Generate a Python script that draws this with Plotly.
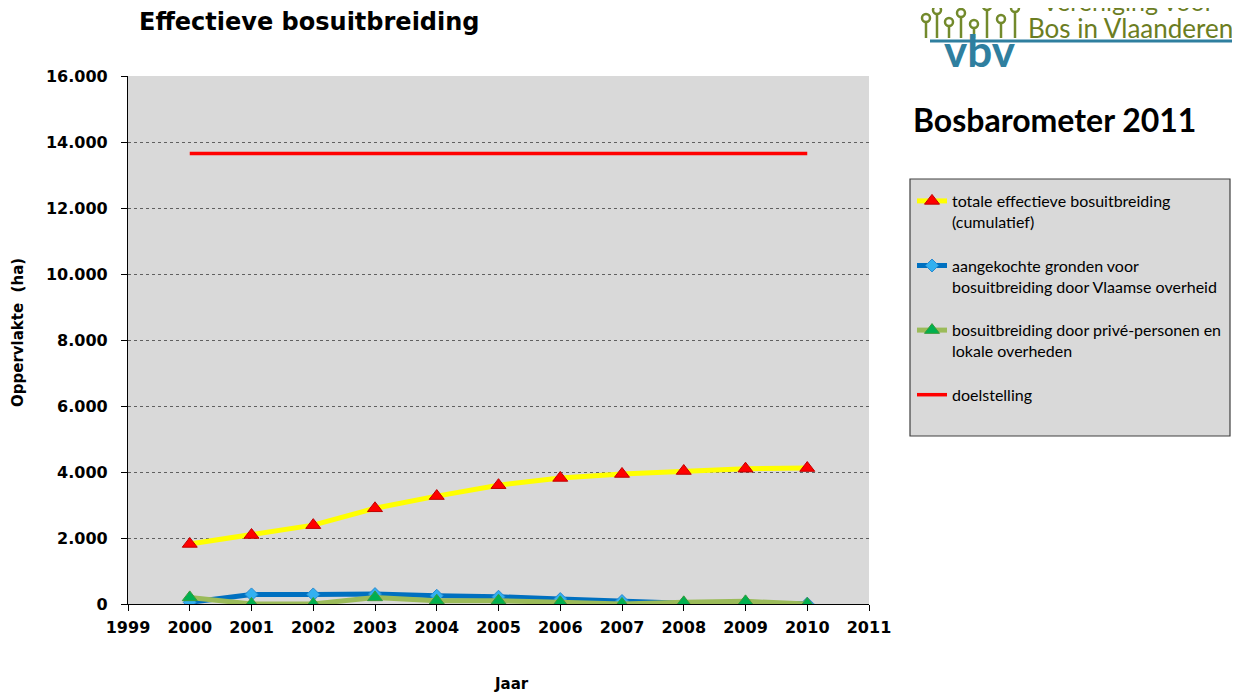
import plotly.graph_objects as go

years = [2000, 2001, 2002, 2003, 2004, 2005, 2006, 2007, 2008, 2009, 2010]
totaal = [1820, 2090, 2390, 2900, 3270, 3600, 3820, 3940, 4030, 4100, 4120]
aangekocht = [50, 290, 290, 300, 250, 220, 150, 90, 20, 10, 10]
prive = [200, 0, 0, 200, 100, 100, 50, 0, 50, 80, 0]
doel_years = [2000, 2010]
doel = [13650, 13650]

names = [
    "totale effectieve bosuitbreiding<br>(cumulatief)",
    "aangekochte gronden voor<br>bosuitbreiding door Vlaamse overheid",
    "bosuitbreiding door privé-personen en<br>lokale overheden",
    "doelstelling",
]

# page offset (browser body margin)
OFF = 8
L, R, T, B = 128 - OFF, 869 - OFF, 76 - OFF, 604 - OFF
W, H = 1240 - OFF, 693 - OFF


def px(x):
    return (x - OFF - L) / (R - L)


def py(y):
    return (B - (y - OFF)) / (B - T)


fig = go.Figure()
fig.add_trace(go.Scatter(
    x=years, y=totaal, name=names[0], mode="lines+markers", legendgroup="a",
    line=dict(color="#ffff00", width=5),
    marker=dict(symbol="triangle-up", size=13, color="#ff0000",
                line=dict(color="#c00000", width=1))))
fig.add_trace(go.Scatter(
    x=years, y=aangekocht, name=names[1], mode="lines+markers", legendgroup="b",
    line=dict(color="#0070c0", width=5),
    marker=dict(symbol="diamond", size=10, color="#33b0f0",
                line=dict(color="#2a8ad0", width=1))))
fig.add_trace(go.Scatter(
    x=years, y=prive, name=names[2], mode="lines+markers", legendgroup="c",
    line=dict(color="#9bbb59", width=5),
    marker=dict(symbol="triangle-up", size=13, color="#00b050",
                line=dict(color="#3a9a3a", width=1))))
fig.add_trace(go.Scatter(
    x=doel_years, y=doel, name=names[3], mode="lines", legendgroup="d",
    line=dict(color="#ff0000", width=3.5)))

shapes = [
    # legend box
    dict(type="rect", xref="paper", yref="paper",
         x0=px(910), x1=px(1230), y0=py(436), y1=py(179),
         fillcolor="#d9d9d9", line=dict(color="#404040", width=1.2), layer="below"),
    # logo line
    dict(type="line", xref="paper", yref="paper",
         x0=px(930), x1=px(1240), y0=py(41), y1=py(41),
         line=dict(color="#2f7f9f", width=3)),
]
# simple tree stems of logo
stems = [(926, 14), (937, 6), (949, 18), (961, 9), (974, 20),
         (987, 2), (1001, 15), (1015, 4)]
for sx, top in stems:
    shapes.append(dict(type="line", xref="paper", yref="paper",
                       x0=px(sx), x1=px(sx), y0=py(38), y1=py(top + 8),
                       line=dict(color="#738a2c", width=2.5)))
    shapes.append(dict(type="circle", xref="paper", yref="paper",
                       x0=px(sx - 4), x1=px(sx + 4), y0=py(top + 8), y1=py(top),
                       line=dict(color="#738a2c", width=2.5)))

annotations = [
    dict(text="<b>Effectieve bosuitbreiding</b>", x=px(137), y=py(22), xref="paper", yref="paper",
         xanchor="left", yanchor="middle", showarrow=False,
         font=dict(family="DejaVu Sans", size=24, color="#000000")),
    dict(text="<b>Oppervlakte  (ha)</b>", x=px(18), y=py(332), xref="paper", yref="paper",
         xanchor="center", yanchor="middle", showarrow=False, textangle=-90,
         font=dict(family="DejaVu Sans", size=15, color="#000000")),
    dict(text="<b>Jaar</b>", x=px(511), y=py(684), xref="paper", yref="paper",
         xanchor="center", yanchor="middle", showarrow=False,
         font=dict(family="DejaVu Sans", size=15, color="#000000")),
    dict(text="<b>Bosbarometer 2011</b>", x=px(911), y=py(119), xref="paper", yref="paper",
         xanchor="left", yanchor="middle", showarrow=False,
         font=dict(family="Lato", size=32, color="#000000")),
    dict(text="Vereniging voor", x=px(1040), y=py(1), xref="paper", yref="paper",
         xanchor="left", yanchor="middle", showarrow=False,
         font=dict(family="Lato", size=25, color="#6b7d22")),
    dict(text="Bos in Vlaanderen", x=px(1026), y=py(28), xref="paper", yref="paper",
         xanchor="left", yanchor="middle", showarrow=False,
         font=dict(family="Lato", size=26, color="#6b7d22")),
    dict(text="<b>vbv</b>", x=px(980), y=py(50), xref="paper", yref="paper",
         xanchor="center", yanchor="middle", showarrow=False,
         font=dict(family="Lato", size=44, color="#2f7f9f")),
]

fig.update_layout(
    width=W, height=H,
    margin=dict(l=L, r=W - R, t=T, b=H - B),
    paper_bgcolor="#ffffff",
    plot_bgcolor="#d9d9d9",
    separators=",.",
    showlegend=True,
    legend=dict(x=px(912), y=py(184), xanchor="left", yanchor="top",
                bgcolor="rgba(0,0,0,0)", borderwidth=0, valign="top",
                tracegroupgap=20, itemwidth=30,
                font=dict(family="Lato", size=16, color="#000000")),
    xaxis=dict(range=[1999, 2011], tickmode="linear", tick0=1999, dtick=1,
               showgrid=False, zeroline=False, showline=True, linecolor="#000000",
               linewidth=1.2, ticks="outside", ticklen=6, tickcolor="#000000",
               ticklabelstandoff=3,
               tickfont=dict(family="DejaVu Sans", size=16, color="#000000", weight="bold")),
    yaxis=dict(range=[0, 16000], tickmode="linear", tick0=0, dtick=2000, tickformat=",d",
               showgrid=True, gridcolor="#606060", griddash="dot", gridwidth=1,
               zeroline=False, showline=True, linecolor="#000000", linewidth=1.2,
               ticks="outside", ticklen=6, tickcolor="#000000", ticklabelstandoff=10,
               tickfont=dict(family="DejaVu Sans", size=16, color="#000000", weight="bold")),
    shapes=shapes,
    annotations=annotations,
)

fig.write_html("out.html")
